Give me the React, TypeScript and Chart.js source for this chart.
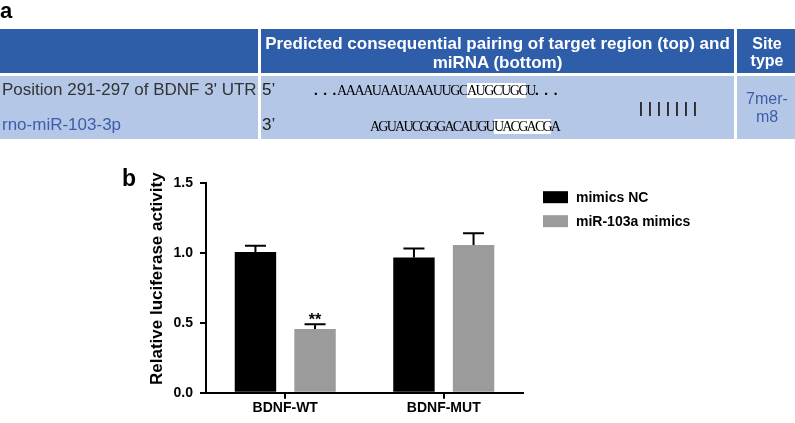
import React, { useEffect, useRef } from "react";
import { Chart, registerables } from "chart.js";

Chart.register(...registerables);

// ---------- data ----------
const categories = ["BDNF-WT", "BDNF-MUT"];
const seriesNames = ["mimics NC", "miR-103a mimics"];
const ncValues = [1.005, 0.965];
const ncErrors = [0.045, 0.065];
const mimicValues = [0.455, 1.055];
const mimicErrors = [0.034, 0.084];
const mimicSignif = ["**", ""];
const yTicks = [0, 0.5, 1.0, 1.5];
const yTitle = "Relative luciferase activity";
const seriesColors = ["#000000", "#9b9b9b"];

const FONT = "'Liberation Sans', Arial, Helvetica, sans-serif";
const SERIF = "'Liberation Serif', 'Times New Roman', serif";
const DARK = "#2e5daa";
const LIGHT = "#b4c7e7";
const BLUE_TXT = "#3d5dab";

const overlayPlugin = {
  id: "overlay",
  afterDatasetsDraw(chart: any) {
    const ctx = chart.ctx;
    const y = chart.scales.y;
    const area = chart.chartArea;
    chart.data.datasets.forEach((ds: any, di: number) => {
      const meta = chart.getDatasetMeta(di);
      meta.data.forEach((bar: any, i: number) => {
        const v = ds.data[i];
        const e = ds.errors[i];
        const top = y.getPixelForValue(v + e);
        ctx.save();
        ctx.strokeStyle = "#000";
        ctx.lineWidth = 2;
        ctx.beginPath();
        ctx.moveTo(bar.x, bar.y);
        ctx.lineTo(bar.x, top);
        ctx.moveTo(bar.x - 10.5, top);
        ctx.lineTo(bar.x + 10.5, top);
        ctx.stroke();
        const s = ds.signif ? ds.signif[i] : "";
        if (s) {
          ctx.fillStyle = "#000";
          ctx.font = `bold 16px ${FONT}`;
          ctx.textAlign = "center";
          ctx.textBaseline = "alphabetic";
          ctx.fillText(s, bar.x, top + 0.5);
        }
        ctx.restore();
      });
    });
    // y-axis title
    ctx.save();
    ctx.fillStyle = "#000";
    ctx.font = `bold 17px ${FONT}`;
    ctx.textAlign = "center";
    ctx.textBaseline = "middle";
    ctx.translate(area.left - 49, (area.top + area.bottom) / 2 - 9);
    ctx.rotate(-Math.PI / 2);
    ctx.fillText(yTitle, 0, 0);
    ctx.restore();
    // legend
    ctx.save();
    chart.data.datasets.forEach((ds: any, di: number) => {
      const lx = area.right + 20;
      const ly = area.top + 8.5 + di * 24;
      ctx.fillStyle = ds.backgroundColor;
      ctx.fillRect(lx, ly, 25, 12);
      ctx.fillStyle = "#000";
      ctx.font = `bold 14px ${FONT}`;
      ctx.textAlign = "left";
      ctx.textBaseline = "middle";
      ctx.fillText(ds.label, lx + 33, ly + 6.5);
    });
    ctx.restore();
  },
};

function BarChart() {
  const ref = useRef<HTMLCanvasElement | null>(null);
  useEffect(() => {
    const canvas = ref.current;
    if (!canvas) return;
    const chart = new Chart(canvas, {
      type: "bar",
      data: {
        labels: categories,
        datasets: [
          {
            label: seriesNames[0],
            data: ncValues,
            backgroundColor: seriesColors[0],
            borderWidth: 0,
            categoryPercentage: 0.752,
            barPercentage: 0.695,
            errors: ncErrors,
          } as any,
          {
            label: seriesNames[1],
            data: mimicValues,
            backgroundColor: seriesColors[1],
            borderWidth: 0,
            categoryPercentage: 0.752,
            barPercentage: 0.695,
            errors: mimicErrors,
            signif: mimicSignif,
          } as any,
        ],
      },
      options: {
        responsive: false,
        animation: false,
        devicePixelRatio: 1,
        layout: { padding: { left: 0, top: 182.7, right: 272, bottom: 0 } },
        plugins: { legend: { display: false }, tooltip: { enabled: false }, title: { display: false } },
        scales: {
          x: {
            offset: true,
            grid: {
              offset: false,
              drawOnChartArea: false,
              drawTicks: true,
              tickLength: 6,
              color: "#000",
              lineWidth: 2,
            },
            border: { display: true, color: "#000", width: 2 },
            ticks: { color: "#000", font: { family: FONT, size: 14, weight: "bold" }, padding: 1 },
            afterFit: (s: any) => {
              s.height = 30.3;
            },
          },
          y: {
            min: 0,
            max: 1.5,
            afterBuildTicks: (s: any) => {
              s.ticks = yTicks.map((v) => ({ value: v }));
            },
            grid: {
              drawOnChartArea: false,
              drawTicks: true,
              tickLength: 6,
              color: "#000",
              lineWidth: 2,
            },
            border: { display: true, color: "#000", width: 2 },
            ticks: {
              color: "#000",
              font: { family: FONT, size: 14, weight: "bold" },
              padding: 7,
              callback: (v: any) => Number(v).toFixed(1),
            },
            afterFit: (s: any) => {
              s.width = 206;
            },
          },
        },
      },
      plugins: [overlayPlugin],
    } as any);
    return () => chart.destroy();
  }, []);
  return (
    <canvas
      ref={ref}
      width={795}
      height={423}
      style={{ position: "absolute", left: 0, top: 0, width: 795, height: 423 }}
    />
  );
}

const abs = (o: React.CSSProperties): React.CSSProperties => ({ position: "absolute", ...o });

export default function App() {
  useEffect(() => {
    document.body.style.margin = "0";
  }, []);
  return (
    <div style={{ position: "relative", width: 795, height: 423, overflow: "hidden", background: "#fff", fontFamily: FONT }}>
      <BarChart />
      {/* panel labels */}
      <div style={abs({ left: 0, top: 0, fontSize: 22, fontWeight: "bold", lineHeight: "22px", color: "#000" })}>a</div>
      <div style={abs({ left: 122, top: 167, fontSize: 23, fontWeight: "bold", lineHeight: "23px", color: "#000" })}>b</div>
      {/* table header */}
      <div style={abs({ left: 0, top: 29, width: 258, height: 44, background: DARK })} />
      <div style={abs({ left: 261, top: 29, width: 473, height: 44, background: DARK })} />
      <div style={abs({ left: 737, top: 29, width: 58, height: 44, background: DARK })} />
      <div
        style={abs({
          left: 261,
          top: 33.5,
          width: 473,
          textAlign: "center",
          color: "#fff",
          fontWeight: "bold",
          fontSize: 17,
          lineHeight: "19px",
          whiteSpace: "nowrap",
        })}
      >
        Predicted consequential pairing of target region (top) and
        <br />
        miRNA (bottom)
      </div>
      <div
        style={abs({
          left: 737,
          top: 35,
          width: 60,
          textAlign: "center",
          color: "#fff",
          fontWeight: "bold",
          fontSize: 16,
          lineHeight: "17px",
        })}
      >
        Site
        <br />
        type
      </div>
      {/* table body */}
      <div style={abs({ left: 0, top: 76, width: 258, height: 63, background: LIGHT })} />
      <div style={abs({ left: 261, top: 76, width: 473, height: 63, background: LIGHT })} />
      <div style={abs({ left: 737, top: 76, width: 58, height: 63, background: LIGHT })} />
      <div style={abs({ left: 2, top: 80, fontSize: 17, lineHeight: "20px", color: "#333", whiteSpace: "nowrap" })}>
        Position 291-297 of BDNF 3' UTR
      </div>
      <div style={abs({ left: 2, top: 115, fontSize: 17, lineHeight: "20px", color: BLUE_TXT, whiteSpace: "nowrap" })}>
        rno-miR-103-3p
      </div>
      <div style={abs({ left: 262, top: 80, fontSize: 17, lineHeight: "20px", color: "#222" })}>5’</div>
      <div style={abs({ left: 262, top: 115, fontSize: 17, lineHeight: "20px", color: "#222" })}>3’</div>
      <div style={abs({ left: 314, top: 81, fontFamily: SERIF, fontSize: 15, lineHeight: "18px", color: "#000", fontWeight: "bold", letterSpacing: "0.9px", whiteSpace: "pre" })}>
        {". . ."}
      </div>
      <div style={abs({ left: 337, top: 81, fontFamily: SERIF, fontSize: 14, lineHeight: "18px", color: "#000", letterSpacing: "-1.4px", whiteSpace: "pre" })}>
        AAAAUAAUAAAUUGC<span style={{ background: "#fff" }}>AUGCUGC</span>U
        <span style={{ letterSpacing: "0.9px", fontWeight: "bold", fontSize: 15 }}>{". . ."}</span>
      </div>
      <div style={abs({ left: 370, top: 118, fontFamily: SERIF, fontSize: 14, lineHeight: "18px", color: "#000", letterSpacing: "-1.75px", whiteSpace: "nowrap" })}>
        AGUAUCGGGACAUGU<span style={{ background: "#fff" }}>UACGACG</span>A
      </div>
      <div style={abs({ left: 639, top: 99, fontSize: 14, fontWeight: "bold", lineHeight: "18px", color: "#222", letterSpacing: "5.1px" })}>
        |||||||
      </div>
      <div style={abs({ left: 737, top: 90, width: 60, textAlign: "center", fontSize: 16, lineHeight: "18px", color: BLUE_TXT })}>
        7mer-
        <br />
        m8
      </div>
    </div>
  );
}
